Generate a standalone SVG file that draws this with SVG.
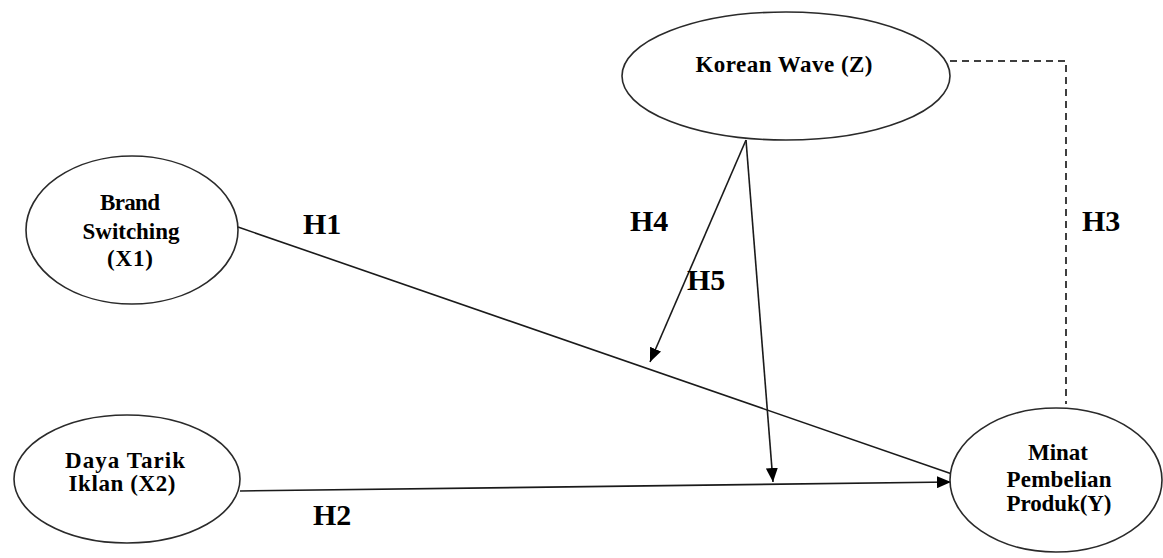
<svg xmlns="http://www.w3.org/2000/svg" width="1163" height="558" viewBox="0 0 1163 558">
<style>
.node ellipse{fill:#fff;stroke:#2a2a2a;stroke-width:1.6}
.nt{font-family:"Liberation Serif","Times New Roman",serif;font-weight:bold;font-size:23px;fill:#000;text-anchor:middle}
.lbl{font-family:"Liberation Serif","Times New Roman",serif;font-weight:bold;font-size:30px;fill:#000}
.ln{stroke:#1a1a1a;stroke-width:1.6;fill:none}
.dash{stroke:#000;stroke-width:1.5;fill:none;stroke-dasharray:7,5}
</style>
<defs>
<marker id="ah" viewBox="0 0 14 12" refX="14" refY="6" markerWidth="14" markerHeight="12" markerUnits="userSpaceOnUse" orient="auto">
<path d="M0,0 L14,6 L0,12 Z" fill="#000"/>
</marker>
</defs>
<rect width="1163" height="558" fill="#fff"/>
<g id="connectors">
<line class="ln" x1="238" y1="227" x2="952" y2="474"/>
<line class="ln" x1="240" y1="491" x2="951" y2="482" marker-end="url(#ah)"/>
<line class="ln" x1="746" y1="140" x2="650" y2="362" marker-end="url(#ah)"/>
<line class="ln" x1="746" y1="140" x2="773" y2="482" marker-end="url(#ah)"/>
<polyline class="dash" points="950,61 1066,61 1066,404"/>
</g>
<g id="node-korean-wave" class="node">
<ellipse cx="786" cy="76" rx="164" ry="64"/>
<text class="nt" x="784" y="72" textLength="177" lengthAdjust="spacing">Korean Wave (Z)</text>
</g>
<g id="node-brand-switching" class="node">
<ellipse cx="132" cy="230" rx="106" ry="74"/>
<text class="nt" x="130" y="210" textLength="60" lengthAdjust="spacing">Brand</text>
<text class="nt" x="131" y="239" textLength="97" lengthAdjust="spacing">Switching</text>
<text class="nt" x="130" y="266" textLength="46" lengthAdjust="spacing">(X1)</text>
</g>
<g id="node-daya-tarik" class="node">
<ellipse cx="127" cy="479" rx="113" ry="64"/>
<text class="nt" x="125" y="468" textLength="120" lengthAdjust="spacing">Daya Tarik</text>
<text class="nt" x="122" y="491" textLength="107" lengthAdjust="spacing">Iklan (X2)</text>
</g>
<g id="node-minat" class="node">
<ellipse cx="1056" cy="480" rx="106" ry="72"/>
<text class="nt" x="1058" y="460" textLength="60" lengthAdjust="spacing">Minat</text>
<text class="nt" x="1059" y="487" textLength="105" lengthAdjust="spacing">Pembelian</text>
<text class="nt" x="1059" y="511" textLength="105" lengthAdjust="spacing">Produk(Y)</text>
</g>
<g id="labels">
<text class="lbl" x="303" y="234">H1</text>
<text class="lbl" x="313" y="525">H2</text>
<text class="lbl" x="1082" y="231">H3</text>
<text class="lbl" x="630" y="231">H4</text>
<text class="lbl" x="687" y="290">H5</text>
</g>
</svg>
